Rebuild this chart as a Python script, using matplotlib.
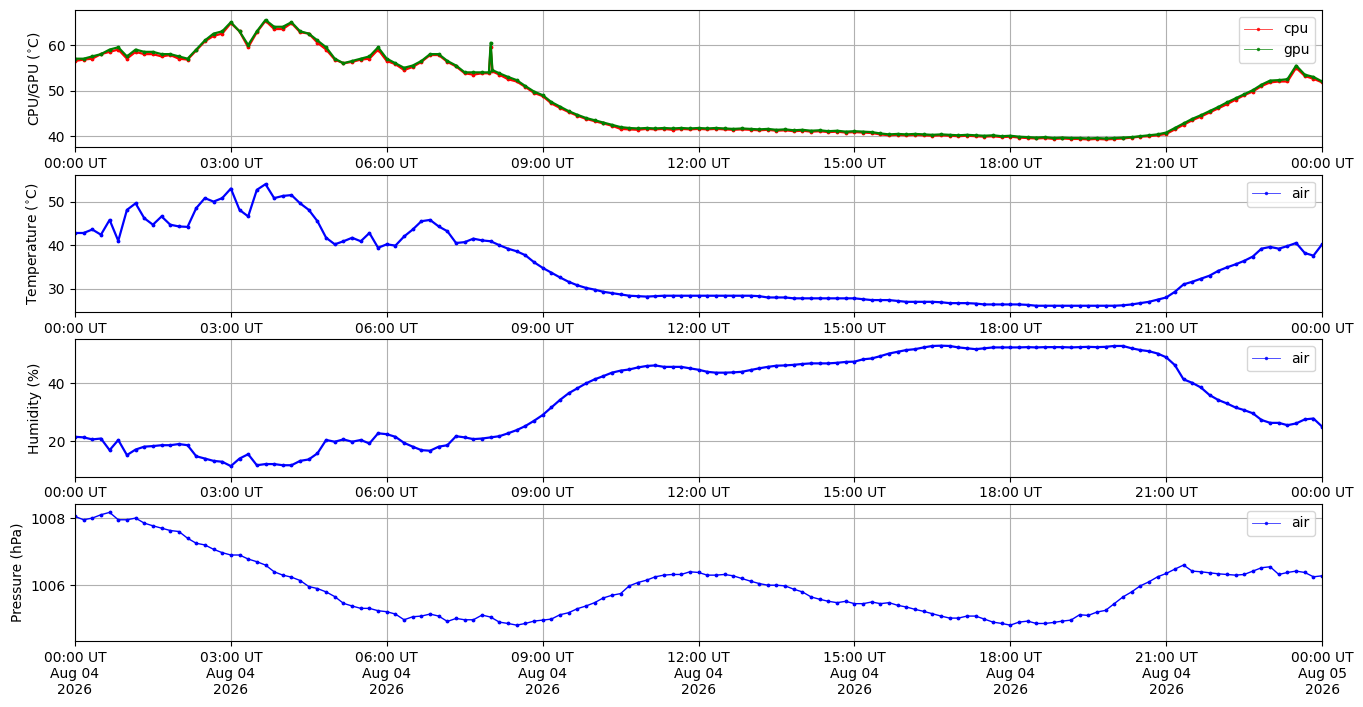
import matplotlib
matplotlib.use("Agg")
import matplotlib.pyplot as plt
import matplotlib.dates as mdates
from matplotlib.lines import Line2D
import pandas as pd

# sample times: minutes after 2026-08-04 00:00 UT, every 10 minutes
minutes = list(range(0, 1441, 10))
# the CPU/GPU log has two extra samples around the 08:00 spike
minutes_top = minutes[:48] + [478, 480, 482] + minutes[49:]

gpu = [
    57.0, 57.0, 57.5, 58.0, 59.0, 59.5,
    57.5, 59.0, 58.5, 58.5, 58.0, 58.0,
    57.5, 57.0, 59.0, 61.0, 62.5, 63.0,
    65.0, 63.0, 60.0, 63.0, 65.5, 64.0,
    64.0, 65.0, 63.0, 62.5, 61.0, 59.5,
    57.0, 56.0, 56.5, 57.0, 57.5, 59.5,
    57.0, 56.0, 55.0, 55.5, 56.5, 58.0,
    58.0, 56.5, 55.5, 54.0, 54.0, 54.0,
    54.0, 60.5, 54.5, 53.8, 53.0, 52.3, 51.0, 49.8,
    49.0, 47.5, 46.5, 45.5, 44.7, 44.0,
    43.5, 43.0, 42.5, 42.0, 41.8, 41.7,
    41.8, 41.7, 41.8, 41.7, 41.8, 41.7,
    41.8, 41.7, 41.8, 41.7, 41.6, 41.7,
    41.6, 41.5, 41.6, 41.4, 41.5, 41.3,
    41.4, 41.2, 41.3, 41.1, 41.2, 41.0,
    41.1, 41.0, 40.9, 40.6, 40.4, 40.5,
    40.4, 40.5, 40.4, 40.3, 40.4, 40.3,
    40.2, 40.3, 40.2, 40.1, 40.2, 40.0,
    40.1, 39.9, 39.8, 39.7, 39.8, 39.6,
    39.7, 39.6, 39.6, 39.5, 39.6, 39.5,
    39.6, 39.7, 39.8, 40.0, 40.2, 40.4,
    40.8, 41.8, 42.8, 43.8, 44.6, 45.5,
    46.4, 47.4, 48.3, 49.2, 50.1, 51.3,
    52.2, 52.3, 52.5, 55.5, 53.5, 53.0,
    52.0,
]

cpu = [
    56.5, 56.8, 57.0, 58.0, 58.5, 59.0,
    57.0, 58.5, 58.0, 58.0, 57.5, 57.8,
    57.0, 56.8, 58.8, 60.8, 62.0, 62.5,
    64.8, 63.0, 59.5, 62.8, 65.3, 63.5,
    63.5, 64.8, 62.8, 62.5, 60.5, 59.0,
    56.8, 56.0, 56.3, 56.8, 57.0, 59.0,
    56.5, 55.8, 54.5, 55.2, 56.3, 57.8,
    57.8, 56.3, 55.3, 53.8, 53.5, 53.8,
    53.8, 59.5, 54.2, 53.5, 52.5, 52.0, 50.8, 49.5,
    48.8, 47.2, 46.2, 45.3, 44.5, 43.8,
    43.3, 42.8, 42.3, 41.6, 41.5, 41.4,
    41.6, 41.5, 41.6, 41.4, 41.6, 41.5,
    41.6, 41.5, 41.6, 41.5, 41.4, 41.5,
    41.4, 41.3, 41.4, 41.2, 41.3, 41.1,
    41.2, 41.0, 41.1, 40.9, 41.0, 40.8,
    40.9, 40.8, 40.7, 40.4, 40.2, 40.3,
    40.2, 40.3, 40.2, 40.1, 40.2, 40.1,
    40.0, 40.1, 40.0, 39.9, 40.0, 39.8,
    39.9, 39.7, 39.6, 39.5, 39.6, 39.4,
    39.5, 39.4, 39.4, 39.3, 39.4, 39.3,
    39.4, 39.5, 39.7, 39.9, 40.0, 40.2,
    40.5, 41.5, 42.5, 43.5, 44.3, 45.2,
    46.1, 47.0, 48.0, 49.0, 49.8, 51.0,
    51.8, 52.0, 52.0, 55.0, 53.2, 52.6,
    51.8,
]

air_temp = [
    42.8, 42.8, 43.6, 42.4, 45.8, 41.0,
    48.1, 49.6, 46.2, 44.7, 46.6, 44.7,
    44.3, 44.2, 48.5, 50.8, 50.0, 50.8,
    53.0, 48.1, 46.6, 52.7, 54.0, 50.8,
    51.3, 51.5, 49.6, 48.1, 45.5, 41.7,
    40.2, 40.9, 41.7, 40.9, 42.8, 39.4,
    40.2, 39.9, 42.0, 43.6, 45.5, 45.8,
    44.3, 43.2, 40.5, 40.7, 41.5, 41.1,
    40.9, 40.0, 39.2, 38.6, 37.7, 36.1,
    34.8, 33.7, 32.6, 31.6, 30.8, 30.2,
    29.8, 29.3, 29.0, 28.7, 28.4, 28.3,
    28.2, 28.3, 28.4, 28.4, 28.4, 28.4,
    28.4, 28.4, 28.4, 28.4, 28.4, 28.4,
    28.4, 28.3, 28.0, 28.0, 28.0, 27.8,
    27.8, 27.8, 27.8, 27.8, 27.8, 27.8,
    27.8, 27.6, 27.4, 27.4, 27.4, 27.2,
    27.0, 27.0, 27.0, 27.0, 26.9, 26.7,
    26.7, 26.7, 26.6, 26.4, 26.4, 26.4,
    26.4, 26.4, 26.3, 26.1, 26.1, 26.1,
    26.1, 26.1, 26.1, 26.1, 26.1, 26.1,
    26.1, 26.2, 26.4, 26.7, 27.0, 27.5,
    28.0, 29.3, 31.0, 31.6, 32.3, 33.0,
    34.1, 34.9, 35.6, 36.4, 37.4, 39.2,
    39.6, 39.2, 39.8, 40.5, 38.2, 37.6,
    40.2,
]

air_humidity = [
    21.6, 21.4, 20.7, 21.0, 17.0, 20.5,
    15.3, 17.2, 18.2, 18.4, 18.7, 18.7,
    19.1, 18.7, 14.9, 14.1, 13.3, 13.0,
    11.5, 14.1, 15.6, 11.8, 12.2, 12.2,
    11.8, 11.8, 13.3, 13.8, 15.9, 20.5,
    19.9, 20.7, 19.9, 20.5, 19.3, 22.8,
    22.5, 21.6, 19.5, 18.2, 17.0, 16.8,
    18.2, 18.7, 21.8, 21.4, 20.8, 21.0,
    21.4, 21.8, 22.8, 23.9, 25.3, 27.1,
    29.1, 31.7, 34.3, 36.6, 38.3, 40.0,
    41.4, 42.5, 43.7, 44.4, 44.8, 45.5,
    46.0, 46.2, 45.7, 45.7, 45.7, 45.2,
    44.7, 44.0, 43.7, 43.7, 43.8, 44.0,
    44.6, 45.2, 45.7, 46.1, 46.2, 46.4,
    46.7, 46.9, 46.9, 46.9, 47.1, 47.4,
    47.5, 48.3, 48.6, 49.4, 50.3, 50.9,
    51.5, 51.8, 52.4, 52.9, 53.0, 52.9,
    52.4, 52.1, 51.8, 52.1, 52.4, 52.4,
    52.4, 52.4, 52.5, 52.4, 52.5, 52.5,
    52.5, 52.4, 52.5, 52.6, 52.5, 52.6,
    52.9, 52.9, 52.1, 51.5, 51.1, 50.3,
    49.0, 46.3, 41.4, 40.2, 38.6, 36.0,
    34.3, 33.1, 31.7, 30.8, 29.7, 27.4,
    26.4, 26.4, 25.6, 26.2, 27.6, 27.9,
    25.1,
]

air_pressure = [
    1008.05, 1007.95, 1008.00, 1008.10, 1008.17, 1007.95,
    1007.95, 1008.00, 1007.85, 1007.77, 1007.70, 1007.63,
    1007.60, 1007.40, 1007.25, 1007.20, 1007.07, 1006.97,
    1006.90, 1006.90, 1006.78, 1006.70, 1006.60, 1006.40,
    1006.30, 1006.24, 1006.14, 1005.96, 1005.90, 1005.80,
    1005.66, 1005.46, 1005.38, 1005.31, 1005.31, 1005.24,
    1005.21, 1005.14, 1004.97, 1005.06, 1005.08, 1005.14,
    1005.08, 1004.92, 1005.01, 1004.97, 1004.97, 1005.11,
    1005.05, 1004.90, 1004.86, 1004.81, 1004.86, 1004.93,
    1004.96, 1004.99, 1005.12, 1005.18, 1005.30, 1005.38,
    1005.48, 1005.62, 1005.70, 1005.75, 1005.98, 1006.08,
    1006.15, 1006.25, 1006.30, 1006.32, 1006.32, 1006.40,
    1006.38, 1006.30, 1006.30, 1006.32, 1006.28, 1006.20,
    1006.12, 1006.05, 1006.00, 1006.00, 1005.98, 1005.88,
    1005.80, 1005.65, 1005.58, 1005.52, 1005.48, 1005.52,
    1005.45, 1005.45, 1005.50, 1005.45, 1005.48, 1005.40,
    1005.35, 1005.28, 1005.22, 1005.15, 1005.08, 1005.02,
    1005.02, 1005.08, 1005.08, 1004.99, 1004.90, 1004.86,
    1004.81, 1004.90, 1004.93, 1004.86, 1004.86, 1004.89,
    1004.93, 1004.96, 1005.12, 1005.10, 1005.20, 1005.25,
    1005.45, 1005.65, 1005.80, 1005.98, 1006.10, 1006.25,
    1006.35, 1006.48, 1006.60, 1006.42, 1006.40, 1006.37,
    1006.34, 1006.32, 1006.30, 1006.32, 1006.42, 1006.52,
    1006.55, 1006.32, 1006.38, 1006.42, 1006.38, 1006.25,
    1006.28,
]

start = pd.Timestamp("2026-08-04 00:00")
end = pd.Timestamp("2026-08-05 00:00")
times = start + pd.to_timedelta(minutes, unit="min")
times_top = start + pd.to_timedelta(minutes_top, unit="min")

fig, axes = plt.subplots(4, 1, figsize=(13.63, 7.07), dpi=100)
fig.subplots_adjust(left=0.055, right=0.97, top=0.986, bottom=0.093, hspace=0.2)

band = dict(marker=".", markersize=3.5, linewidth=1.6)

def proxy(color):
    return Line2D([], [], color=color, marker=".", markersize=3,
                  linewidth=0.6, alpha=0.8, markerfacecolor=color,
                  markeredgecolor=color)

ax = axes[0]
ax.plot(times_top, cpu, color="red", **band)
ax.plot(times_top, gpu, color="green", **band)
ax.set_ylabel("CPU/GPU ($^{\\circ}$C)")
ax.set_ylim(37.6, 67.7)
ax.set_yticks([40, 50, 60])
ax.legend([proxy("red"), proxy("green")], ["cpu", "gpu"], loc="upper right")

ax = axes[1]
ax.plot(times, air_temp, color="blue", **band)
ax.set_ylabel("Temperature ($^{\\circ}$C)")
ax.set_ylim(24.7, 56.2)
ax.set_yticks([30, 40, 50])
ax.legend([proxy("blue")], ["air"], loc="upper right")

ax = axes[2]
ax.plot(times, air_humidity, color="blue", **band)
ax.set_ylabel("Humidity (%)")
ax.set_ylim(7.9, 55.2)
ax.set_yticks([20, 40])
ax.legend([proxy("blue")], ["air"], loc="upper right")

ax = axes[3]
ax.plot(times, air_pressure, color="blue", marker=".", markersize=3.5, linewidth=1.0)
ax.set_ylabel("Pressure (hPa)")
ax.set_ylim(1004.33, 1008.42)
ax.set_yticks([1006, 1008])
ax.legend([proxy("blue")], ["air"], loc="upper right")

for i, ax in enumerate(axes):
    ax.set_xlim(start, end)
    ax.xaxis.set_major_locator(mdates.HourLocator(byhour=range(0, 24, 3)))
    if i < 3:
        ax.xaxis.set_major_formatter(mdates.DateFormatter("%H:%M UT"))
    else:
        ax.xaxis.set_major_formatter(mdates.DateFormatter("%H:%M UT\n%b %d\n%Y"))
    ax.grid(True)
    for lab in ax.get_xticklabels():
        lab.set_rotation(0)
        lab.set_horizontalalignment("center")

fig.savefig("out.png", dpi=100)
